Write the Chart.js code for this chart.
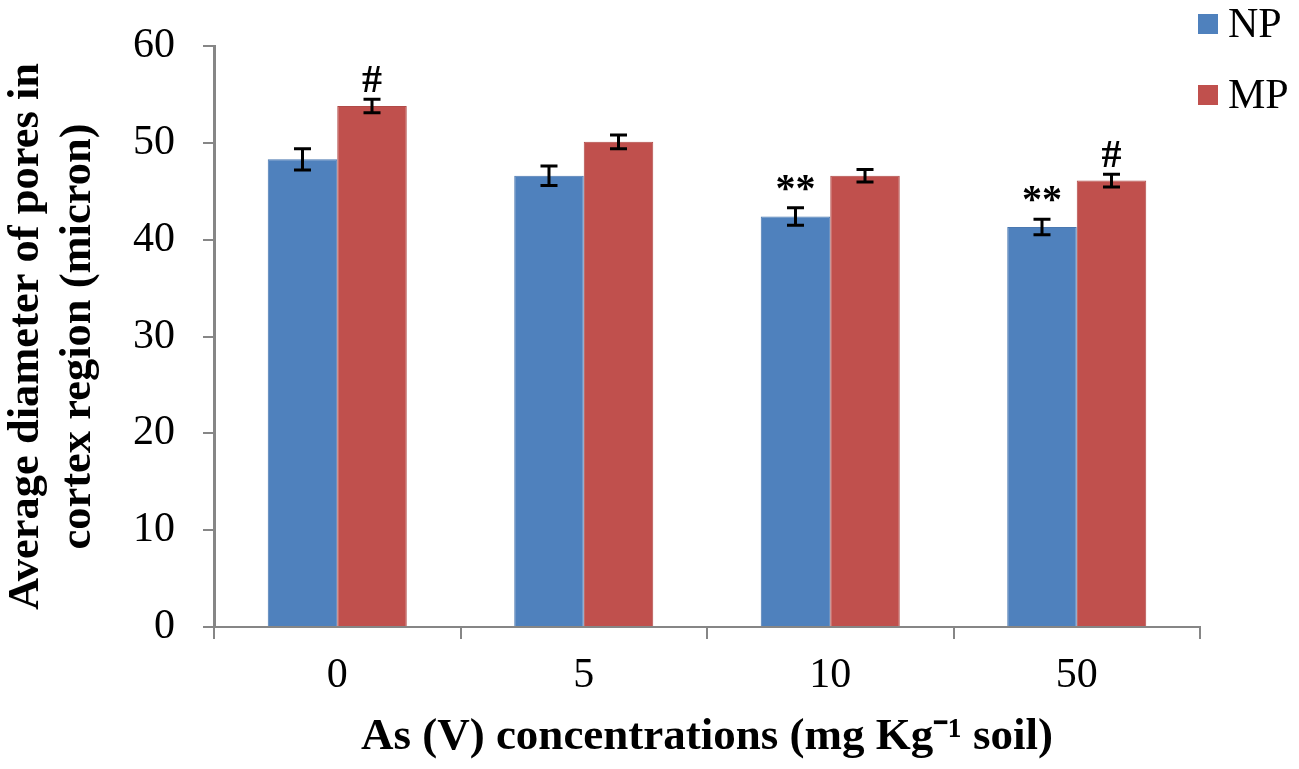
<!DOCTYPE html>
<html lang="en">
<head>
<meta charset="utf-8" />
<title>Average diameter of pores in cortex region</title>
<script src="https://cdnjs.cloudflare.com/ajax/libs/Chart.js/4.4.0/chart.umd.js"></script>
<style>
    html, body { margin: 0; padding: 0; background: #fff; }
    #wrap { width: 1299px; height: 769px; position: relative; }
</style>
</head>
<body>
<div id="wrap"><canvas id="chart"></canvas></div>
<script>
    // values
    const concentrations = ['0', '5', '10', '50'];
    const npValues = [48.3, 46.6, 42.4, 41.3];
    const npErrors = [1.1, 1.0, 0.9, 0.8];
    const mpValues = [53.8, 50.1, 46.6, 46.1];
    const mpErrors = [0.7, 0.7, 0.65, 0.65];
    const npMarks = ['', '', '**', '**'];
    const mpMarks = ['#', '', '', '#'];
    const yTicks = [0, 10, 20, 30, 40, 50, 60];

    const serif = '"Liberation Serif", "Times New Roman", serif';
    const axisGrey = '#868686';

    // error bars + significance marks drawn on top of the bars
    const errorBars = {
        id: 'errorBars',
        afterDatasetsDraw(chart) {
            const ctx = chart.ctx;
            const y = chart.scales.y;
            chart.data.datasets.forEach((ds, i) => {
                const meta = chart.getDatasetMeta(i);
                meta.data.forEach((bar, j) => {
                    const v = ds.data[j], e = ds.errors[j];
                    const top = y.getPixelForValue(v + e);
                    const bot = y.getPixelForValue(v - e);
                    ctx.save();
                    ctx.strokeStyle = '#000';
                    ctx.lineWidth = 3;
                    ctx.beginPath();
                    ctx.moveTo(bar.x, top); ctx.lineTo(bar.x, bot);
                    ctx.moveTo(bar.x - 8.5, top); ctx.lineTo(bar.x + 8.5, top);
                    ctx.moveTo(bar.x - 8.5, bot); ctx.lineTo(bar.x + 8.5, bot);
                    ctx.stroke();
                    const mark = ds.marks[j];
                    if (mark) {
                        ctx.fillStyle = '#000';
                        ctx.textAlign = 'center';
                        ctx.textBaseline = 'alphabetic';
                        ctx.font = 'bold 40px ' + serif;
                        ctx.fillText(mark, bar.x, top - 7);
                    }
                    ctx.restore();
                });
            });
        }
    };

    // legend in the top right corner, stacked
    const cornerLegend = {
        id: 'cornerLegend',
        afterDraw(chart) {
            const ctx = chart.ctx;
            const rows = [37, 108];
            chart.data.datasets.forEach((ds, i) => {
                ctx.save();
                ctx.fillStyle = ds.backgroundColor;
                ctx.fillRect(1198, rows[i] - 23, 20, 20);
                ctx.fillStyle = '#000';
                ctx.font = '42px ' + serif;
                ctx.textBaseline = 'alphabetic';
                ctx.textAlign = 'left';
                ctx.fillText(ds.label, 1228, rows[i]);
                ctx.restore();
            });
        }
    };

    const ctx = document.getElementById('chart').getContext('2d');
    const chart = new Chart(ctx, {
        type: 'bar',
        data: {
            labels: concentrations,
            datasets: [
                {
                    label: 'NP',
                    data: npValues,
                    errors: npErrors,
                    marks: npMarks,
                    backgroundColor: '#4F81BD',
                    borderColor: '#4a78b0',
                    borderWidth: 1,
                    categoryPercentage: 0.564,
                    barPercentage: 1.0
                },
                {
                    label: 'MP',
                    data: mpValues,
                    errors: mpErrors,
                    marks: mpMarks,
                    backgroundColor: '#C0504D',
                    borderColor: '#b04a47',
                    borderWidth: 1,
                    categoryPercentage: 0.564,
                    barPercentage: 1.0
                }
            ]
        },
        options: {
            responsive: true,
            maintainAspectRatio: false,
            animation: false,
            layout: { padding: { top: 46, right: 99, left: 0, bottom: 0 } },
            plugins: {
                legend: { display: false },
                tooltip: { enabled: false }
            },
            scales: {
                x: {
                    afterFit(s) { s.height = 142; },
                    grid: {
                        offset: true,
                        drawOnChartArea: false,
                        color: axisGrey,
                        lineWidth: 2,
                        tickLength: 12
                    },
                    border: { color: axisGrey, width: 2 },
                    ticks: {
                        color: '#000',
                        padding: 12,
                        font: { family: serif, size: 42 }
                    },
                    title: {
                        display: true,
                        text: 'As (V) concentrations (mg Kg\u207B\u00B9 soil)',
                        color: '#000',
                        font: { family: serif, size: 45, weight: 'bold', lineHeight: 1.1 },
                        padding: { top: 0, bottom: 7 }
                    }
                },
                y: {
                    min: 0,
                    max: 60,
                    afterFit(s) {
                        s.width = 214;
                        s.paddingTop = 0;
                        s.paddingBottom = 0;
                    },
                    afterBuildTicks(s) { s.ticks = yTicks.map(v => ({ value: v })); },
                    grid: {
                        drawOnChartArea: false,
                        color: axisGrey,
                        lineWidth: 2,
                        tickLength: 11
                    },
                    border: { color: axisGrey, width: 3 },
                    ticks: {
                        color: '#000',
                        padding: 28,
                        font: { family: serif, size: 42 }
                    },
                    title: {
                        display: true,
                        text: ['Average diameter of pores in', 'cortex region (micron)'],
                        color: '#000',
                        font: { family: serif, size: 44.5, weight: 'bold', lineHeight: 1.16 },
                        padding: { top: 1, bottom: 0 }
                    }
                }
            }
        },
        plugins: [errorBars, cornerLegend]
    });
</script>
</body>
</html>
